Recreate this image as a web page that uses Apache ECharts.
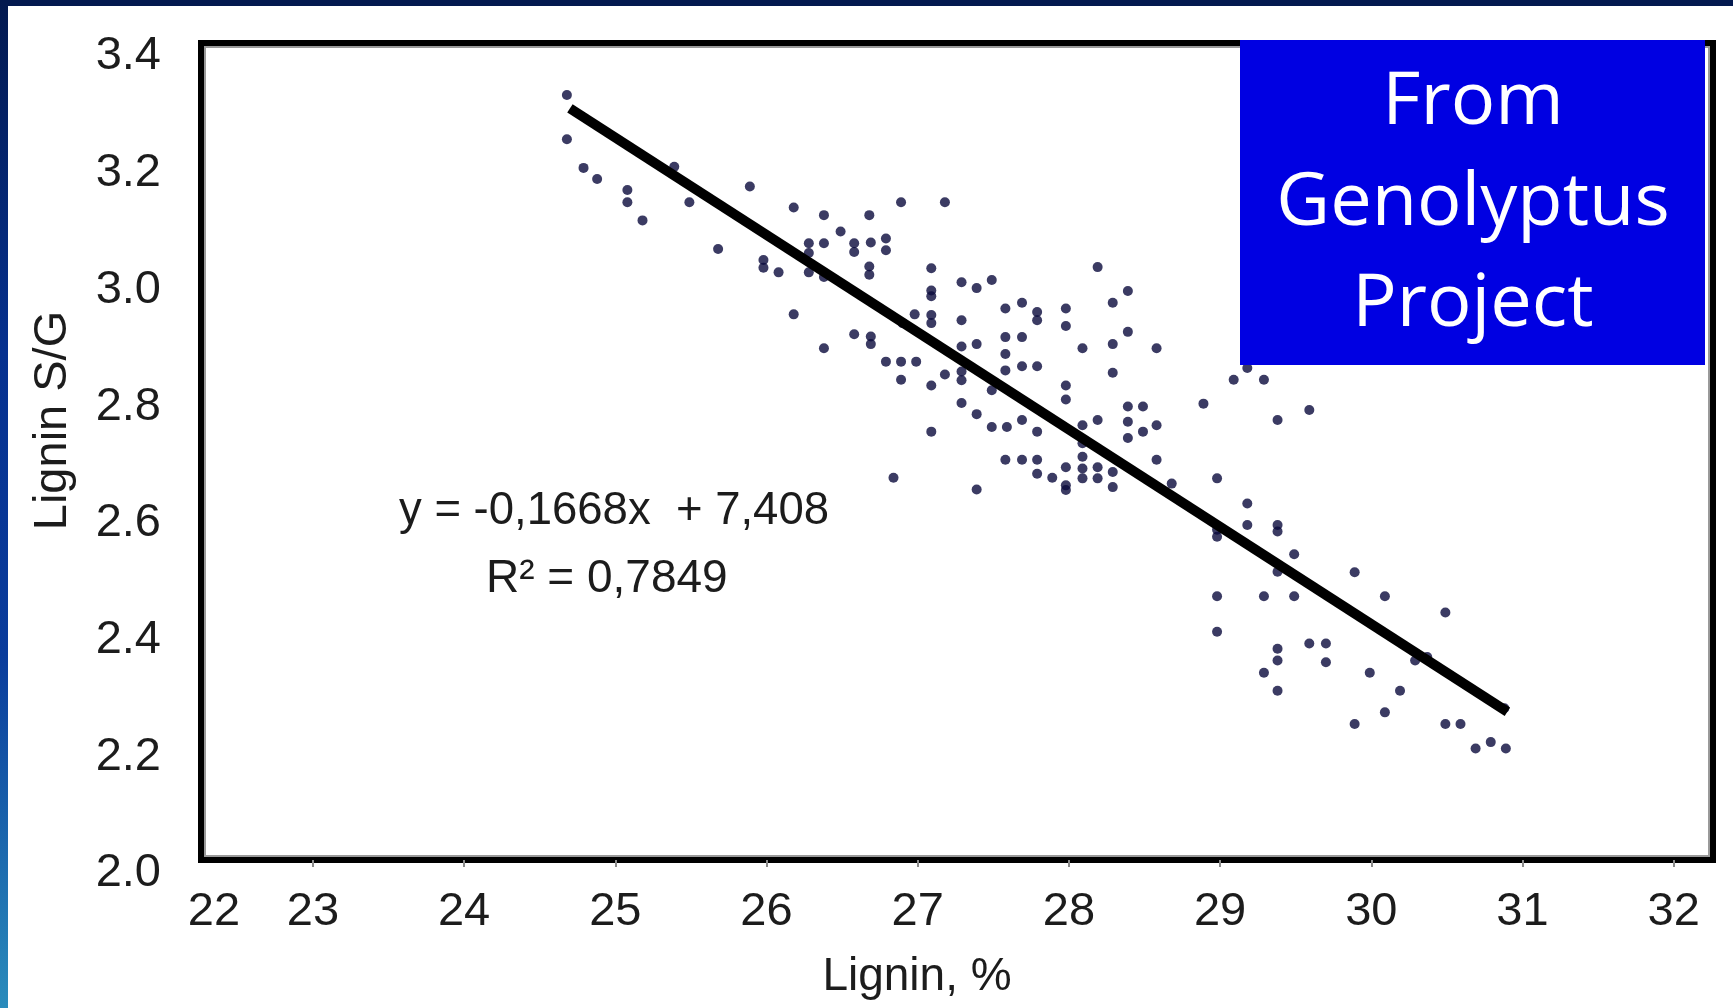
<!DOCTYPE html>
<html>
<head>
<meta charset="utf-8">
<script src="https://cdn.jsdelivr.net/npm/echarts@6/dist/echarts.min.js"></script>
<style>
  html, body { margin: 0; padding: 0; background: #ffffff; }
  #chart { position: absolute; left: 0; top: 0; width: 1733px; height: 1008px; }
  #topband { position: absolute; left: 0; top: 0; width: 1733px; height: 6px; background: #03194f; }
  #leftband { position: absolute; left: 0; top: 0; width: 8px; height: 1008px;
    background: linear-gradient(to bottom, #03194f 0%, #06318f 35%, #0a3c9c 65%, #2a8cbc 100%); }
</style>
</head>
<body>
<div id="chart"></div>
<div id="topband"></div>
<div id="leftband"></div>
<script>
// ---- data ----
const ligninPct = [
  24.68, 24.68, 24.79, 24.88, 25.08, 25.08, 25.18, 25.49, 25.39, 25.89, 25.68, 25.98, 25.98,
  26.08, 26.18, 26.38, 26.68, 26.89, 27.18, 26.49, 26.28, 26.38, 26.58, 26.58, 26.69, 26.79,
  26.79, 26.28, 26.28, 26.38, 26.68, 26.68, 27.09, 27.09, 27.09, 27.29, 27.39, 27.49, 26.18,
  26.98, 27.09, 27.09, 27.29, 26.90, 26.58, 26.69, 26.69, 26.38, 27.39, 27.29, 26.79, 26.89,
  26.99, 26.89, 27.09, 27.18, 27.29, 27.29, 27.49, 27.29, 27.39, 27.49, 27.09, 26.84, 27.39,
  28.19, 28.39, 28.29, 27.58, 27.69, 27.79, 27.79, 27.98, 27.98, 28.39, 27.58, 27.69, 28.09,
  28.29, 28.58, 27.58, 27.58, 27.69, 27.79, 28.29, 27.98, 27.98, 28.89, 28.39, 28.49, 28.39,
  28.49, 28.58, 28.39, 28.19, 28.09, 27.59, 27.69, 27.79, 28.09, 27.58, 27.69, 27.79, 27.79,
  27.89, 27.98, 27.98, 27.98, 28.09, 28.09, 28.09, 28.19, 28.19, 28.29, 28.29, 28.58, 28.68,
  28.98, 29.18, 29.09, 29.29, 29.59, 29.38, 29.18, 29.18, 29.38, 29.38, 28.98, 28.98, 29.49,
  29.38, 29.89, 28.98, 29.29, 29.49, 28.98, 29.38, 29.38, 29.59, 29.70, 29.70, 29.29, 29.38,
  30.09, 30.49, 30.37, 30.29, 29.99, 30.19, 30.09, 29.89, 30.49, 30.59, 30.88, 30.69, 30.79,
  30.89
];
const ligninSG = [
  3.311, 3.235, 3.186, 3.167, 3.148, 3.127, 3.096, 3.127, 3.188, 3.154, 3.047, 3.028, 3.015,
  3.007, 3.118, 3.105, 3.105, 3.127, 3.127, 3.077, 3.057, 3.057, 3.057, 3.042, 3.058, 3.065,
  3.045, 3.040, 3.007, 2.999, 3.017, 3.003, 3.014, 2.976, 2.966, 2.990, 2.980, 2.994, 2.935,
  2.935, 2.934, 2.920, 2.925, 2.920, 2.901, 2.897, 2.884, 2.877, 2.884, 2.880, 2.854, 2.854,
  2.854, 2.823, 2.813, 2.832, 2.837, 2.822, 2.805, 2.783, 2.764, 2.742, 2.734, 2.655, 2.635,
  3.016, 2.975, 2.955, 2.945, 2.955, 2.939, 2.925, 2.945, 2.915, 2.905, 2.896, 2.896, 2.877,
  2.884, 2.877, 2.867, 2.839, 2.846, 2.846, 2.835, 2.813, 2.789, 2.782, 2.777, 2.777, 2.751,
  2.734, 2.745, 2.723, 2.754, 2.745, 2.742, 2.754, 2.734, 2.714, 2.686, 2.686, 2.686, 2.662,
  2.655, 2.673, 2.642, 2.634, 2.691, 2.671, 2.654, 2.673, 2.654, 2.665, 2.639, 2.686, 2.645,
  2.654, 2.843, 2.823, 2.823, 2.771, 2.754, 2.611, 2.574, 2.574, 2.563, 2.566, 2.554, 2.524,
  2.494, 2.493, 2.452, 2.452, 2.452, 2.391, 2.362, 2.342, 2.371, 2.371, 2.339, 2.321, 2.290,
  2.452, 2.424, 2.348, 2.342, 2.321, 2.290, 2.253, 2.233, 2.233, 2.233, 2.260, 2.191, 2.202,
  2.191
];
const trendX = [24.7, 30.9];
const trendY = [3.288, 2.254];
const xTickValues = [23, 24, 25, 26, 27, 28, 29, 30, 31, 32];
const xTickLabels = ['22', '23', '24', '25', '26', '27', '28', '29', '30', '31', '32'];
const yTickLabels = ['2.0', '2.2', '2.4', '2.6', '2.8', '3.0', '3.2', '3.4'];
const xAxisTitle = 'Lignin, %';
const yAxisTitle = 'Lignin S/G';
const equationText = 'y = -0,1668x  + 7,408';
const r2Text = 'R\u00B2 = 0,7849';
const boxLines = ['From', 'Genolyptus', 'Project'];

// ---- layout ----
const W = 1733, H = 1008;
const G = { left: 201, right: 20, top: 43, bottom: 148 };
const X_MIN = 22.26, X_MAX = 32.26, Y_MIN = 2.0, Y_MAX = 3.4;
const FONT = '"Liberation Sans", Arial, sans-serif';
const TXT = '#1c1c1c';
const TICK_FS = 47;

const chart = echarts.init(document.getElementById('chart'), null, { renderer: 'canvas' });

const scatterData = ligninPct.map((x, i) => [x, ligninSG[i]]);
const trendData = trendX.map((x, i) => [x, trendY[i]]);

const gw = W - G.left - G.right, gh = H - G.top - G.bottom;

chart.setOption({
  animation: false,
  backgroundColor: '#ffffff',
  grid: {
    left: G.left, right: G.right, top: G.top, bottom: G.bottom,
    show: true, borderColor: '#000000', borderWidth: 6, backgroundColor: 'transparent'
  },
  xAxis: {
    type: 'value', min: X_MIN, max: X_MAX,
    splitLine: { show: false },
    axisLine: { show: false },
    axisTick: { show: true, customValues: xTickValues, length: 7, lineStyle: { color: '#8a8a8a', width: 2 } },
    axisLabel: {
      customValues: [X_MIN].concat(xTickValues),
      formatter: v => v < 22.5 ? '{m|' + xTickLabels[0] + '}' : xTickLabels[Math.round(v) - 22],
      margin: 29, color: TXT, fontFamily: FONT, fontSize: TICK_FS,
      rich: { m: { color: TXT, fontFamily: FONT, fontSize: TICK_FS, padding: [0, 0, 0, 26] } }
    },
    name: xAxisTitle, nameLocation: 'middle', nameGap: 94,
    nameTextStyle: { color: TXT, fontFamily: FONT, fontSize: 46, padding: [0, 80, 0, 0] }
  },
  yAxis: {
    type: 'value', min: Y_MIN, max: Y_MAX, interval: 0.2,
    splitLine: { show: false },
    axisLine: { show: false },
    axisTick: { show: false },
    axisLabel: {
      formatter: v => yTickLabels[Math.round((v - 2) / 0.2)],
      margin: 40, color: TXT, fontFamily: FONT, fontSize: TICK_FS,
      verticalAlign: 'top', lineHeight: 27, showMinLabel: true, showMaxLabel: true
    },
    name: yAxisTitle, nameLocation: 'middle', nameGap: 124, nameRotate: 90,
    nameTextStyle: { color: TXT, fontFamily: FONT, fontSize: 47, padding: [0, 0, 0, 62] }
  },
  series: [
    {
      type: 'scatter', data: scatterData, symbol: 'circle', symbolSize: 10,
      itemStyle: { color: '#0a0a3c' }, z: 2
    },
    {
      type: 'line', data: trendData, symbol: 'none', z: 3,
      lineStyle: { color: '#000000', width: 10 }
    }
  ],
  graphic: [
    {
      type: 'rect', z: 1, silent: true,
      shape: { x: G.left + 4, y: G.top + 4, width: gw - 8, height: gh - 8 },
      style: { fill: 'none', stroke: '#9a9a9a', lineWidth: 2 }
    },
    {
      type: 'text', z: 10, left: 399, top: 488,
      style: { text: equationText, fill: TXT, font: '45.5px ' + FONT }
    },
    {
      type: 'text', z: 10, left: 486, top: 556,
      style: { text: r2Text, fill: TXT, font: '46px ' + FONT }
    },
    {
      type: 'rect', z: 20,
      shape: { x: 1240, y: 40, width: 465, height: 325 },
      style: { fill: '#0000e2' }
    },
    {
      type: 'text', z: 21, x: 1473, y: 204,
      style: {
        text: boxLines.join('\n'), fill: '#ffffff', align: 'center', verticalAlign: 'middle',
        font: '74px "Open Sans", "Noto Sans", sans-serif', lineHeight: 101
      }
    }
  ]
});
</script>
</body>
</html>
